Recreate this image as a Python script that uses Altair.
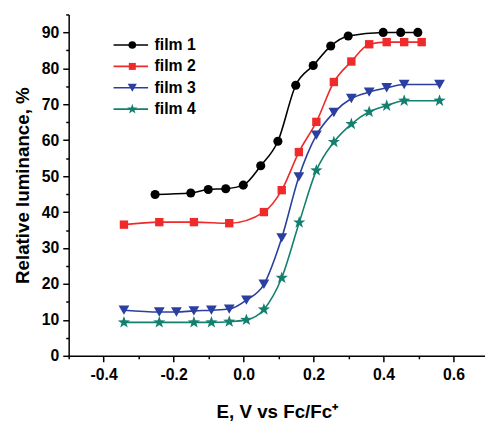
import altair as alt
import pandas as pd

films = ["film 1", "film 2", "film 3", "film 4"]
colors = ["#000000", "#ee2a2a", "#2b3fa0", "#13806f"]
STAR = ("M0,-1L0.235,-0.324L0.951,-0.309L0.38,0.124L0.588,0.809L0,0.4"
        "L-0.588,0.809L-0.38,0.124L-0.951,-0.309L-0.235,-0.324Z")
shapes = ["circle", "square", "triangle-down", STAR]
marker_sizes = [85, 72, 120, 170]
legend_sizes = [60, 50, 85, 120]

x1 = [-0.253, -0.151, -0.101, -0.051, -0.001, 0.049, 0.098, 0.149, 0.199, 0.249, 0.299, 0.399, 0.449, 0.498]
y1 = [44.9, 45.3, 46.3, 46.5, 47.5, 52.9, 59.7, 75.3, 80.8, 86.2, 89.0, 90.0, 90.0, 90.0]
x2 = [-0.342, -0.241, -0.142, -0.041, 0.058, 0.109, 0.158, 0.208, 0.258, 0.308, 0.359, 0.409, 0.459, 0.509]
y2 = [36.5, 37.2, 37.2, 36.9, 40.0, 46.1, 56.7, 65.1, 76.2, 81.9, 86.7, 87.3, 87.3, 87.3]
x3 = [-0.342, -0.241, -0.192, -0.142, -0.092, -0.041, 0.008, 0.058, 0.109, 0.158, 0.208, 0.258, 0.308, 0.359, 0.409, 0.459, 0.560]
y3 = [12.7, 12.2, 12.2, 12.5, 12.7, 13.0, 15.5, 19.9, 32.8, 49.8, 61.4, 67.7, 71.6, 73.4, 74.6, 75.5, 75.5]
x4 = [-0.342, -0.241, -0.142, -0.092, -0.041, 0.008, 0.058, 0.109, 0.159, 0.208, 0.258, 0.308, 0.359, 0.409, 0.459, 0.560]
y4 = [9.3, 9.3, 9.3, 9.3, 9.5, 10.0, 12.9, 21.7, 37.1, 51.6, 59.5, 64.5, 67.9, 69.6, 71.0, 71.0]

x_ticks = [-0.5, -0.4, -0.3, -0.2, -0.1, 0.0, 0.1, 0.2, 0.3, 0.4, 0.5, 0.6]
y_ticks = [0, 5, 10, 15, 20, 25, 30, 35, 40, 45, 50, 55, 60, 65, 70, 75, 80, 85, 90, 95]

rows = []
for name, sz, xs, ys in zip(films, marker_sizes, [x1, x2, x3, x4], [y1, y2, y3, y4]):
    for xv, yv in zip(xs, ys):
        rows.append({"film": name, "E": xv, "L": yv, "sz": sz})
df = pd.DataFrame(rows)
legend_df = pd.DataFrame({"film": films, "sz": legend_sizes})

FONT = "Liberation Sans"
color_scale = alt.Scale(domain=films, range=colors)
shape_scale = alt.Scale(domain=films, range=shapes)

x_enc = alt.X(
    "E:Q",
    scale=alt.Scale(domain=[-0.5, 0.69], nice=False, zero=False),
    axis=alt.Axis(
        orient="bottom",
        title="E, V vs Fc/Fc\u207a",
        values=x_ticks,
        labelExpr="abs(round(datum.value*10)) % 2 == 0 ? ((datum.value < -0.001 ? '-' : '') + format(abs(datum.value), '.1f')) : ''",
        tickSize={"condition": {"test": "abs(round(datum.value*10)) % 2 == 0", "value": 6}, "value": 3},
        labelPadding=5,
        titlePadding=21,
    ),
)
y_enc = alt.Y(
    "L:Q",
    scale=alt.Scale(domain=[0, 95], nice=False, zero=False),
    axis=alt.Axis(
        orient="left",
        title="Relative luminance, %",
        values=y_ticks,
        labelExpr="datum.value % 10 == 0 ? datum.value : ''",
        tickSize={"condition": {"test": "datum.value % 10 == 0", "value": 6}, "value": 3},
        labelPadding=4,
        titlePadding=9,
    ),
)

lines = alt.Chart(df).mark_line(interpolate="monotone", strokeWidth=1.6).encode(
    x=x_enc, y=y_enc,
    color=alt.Color("film:N", scale=color_scale, legend=None),
    detail="film:N",
)
points = alt.Chart(df).mark_point(filled=True, opacity=1).encode(
    x=x_enc, y=y_enc,
    color=alt.Color("film:N", scale=color_scale, legend=None),
    shape=alt.Shape("film:N", scale=shape_scale, legend=None),
    size=alt.Size("sz:Q", scale=None, legend=None),
)

ly = alt.Y("film:N", scale=alt.Scale(type="point", domain=films, range=[31, 96], padding=0), axis=None)
leg_rule = alt.Chart(legend_df).mark_rule(strokeWidth=1.6).encode(
    x=alt.value(45.5), x2=alt.value(80.5), y=ly,
    color=alt.Color("film:N", scale=color_scale, legend=None),
)
leg_pt = alt.Chart(legend_df).mark_point(filled=True, opacity=1).encode(
    x=alt.value(64.5), y=ly,
    color=alt.Color("film:N", scale=color_scale, legend=None),
    shape=alt.Shape("film:N", scale=shape_scale, legend=None),
    size=alt.Size("sz:Q", scale=None, legend=None),
)
leg_txt = alt.Chart(legend_df).mark_text(
    align="left", baseline="middle", font=FONT, fontSize=16, fontWeight="bold", color="black"
).encode(x=alt.value(87), y=ly, text="film:N")

main = alt.layer(lines, points)
legend = alt.layer(leg_rule, leg_pt, leg_txt)

chart = alt.layer(main, legend).resolve_scale(y="independent").properties(
    width=422,
    height=346,
    autosize=alt.AutoSizeParams(type="none"),
    padding={"left": 61.5, "top": 3.7, "right": 0, "bottom": 68},
).configure_view(stroke=None).configure_axis(
    grid=False,
    domainColor="black",
    domainWidth=1.5,
    tickColor="black",
    tickWidth=1.5,
    labelFont=FONT,
    labelFontSize=16,
    labelFontWeight="bold",
    labelColor="black",
    titleFont=FONT,
    titleFontSize=19,
    titleFontWeight="bold",
    titleColor="black",
)

chart.save("out.html", embed_options={"renderer": "svg", "actions": False})
